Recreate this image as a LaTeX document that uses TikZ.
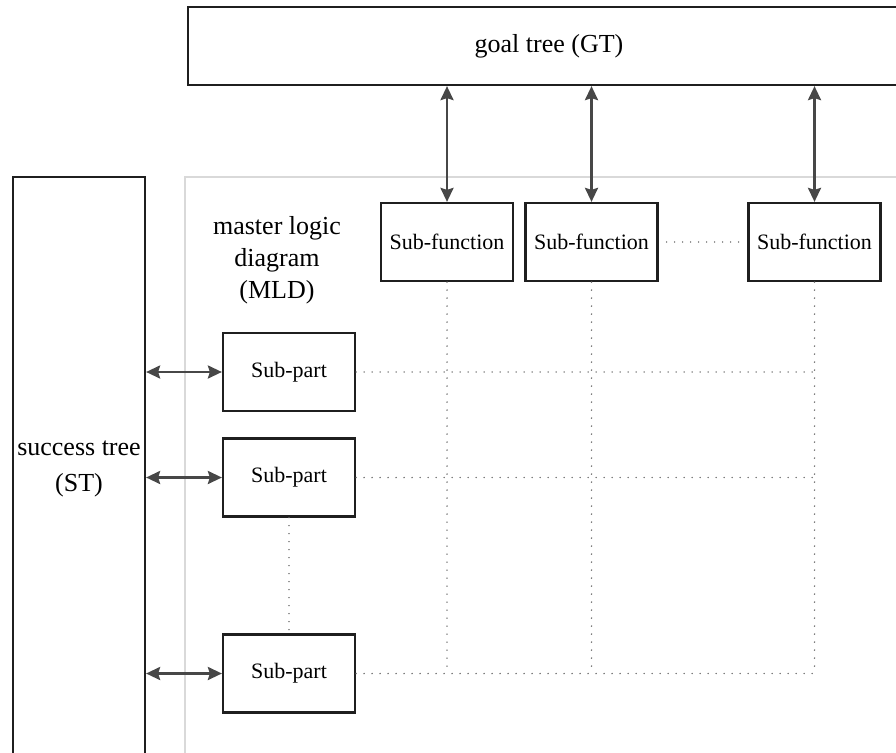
\documentclass[tikz,border=0pt]{standalone}
\usepackage{fontspec}
\setmainfont{Liberation Serif}
\usetikzlibrary{arrows.meta,calc}
\begin{document}
\begin{tikzpicture}[x=1pt,y=-1pt,
  box/.style={draw=black!88,line width=2.2pt,rectangle,inner sep=0pt,
    align=center,font=\fontsize{22}{26}\selectfont},
  bigbox/.style={box,font=\fontsize{26}{36}\selectfont},
  subbox/.style={box,minimum width=132pt,minimum height=78pt},
  link/.style={draw=black!72,line width=2.6pt,
    {Stealth[length=14pt,width=13pt,inset=2pt]}-{Stealth[length=14pt,width=13pt,inset=2pt]}},
  grid/.style={draw=black!62,line width=1.7pt,line cap=round,dash pattern=on 0pt off 8pt},
  label/.style={align=center,font=\fontsize{26}{32}\selectfont}]
\useasboundingbox (0,0) rectangle (896,752);

% frame of the master logic diagram
\draw[black!15,line width=1.2pt] (185,790) -- (185,177) -- (930,177);

% goal tree and success tree
\node[bigbox,minimum width=722pt,minimum height=78pt] (GT) at (549,46) {goal tree (GT)};
\node[bigbox,minimum width=132pt,minimum height=583pt] (ST) at (79,468.5) {success tree\\(ST)};

\node[label] (MLD) at (277,260) {master logic\\diagram\\(MLD)};

% sub-functions
\node[subbox] (sf1) at (447,242) {Sub-function};
\node[subbox] (sf2) at (591.5,242) {Sub-function};
\node[subbox] (sf3) at (814.5,242) {Sub-function};

% sub-parts
\node[subbox] (sp1) at (289,372) {Sub-part};
\node[subbox] (sp2) at (289,477.5) {Sub-part};
\node[subbox] (sp3) at (289,673.5) {Sub-part};

% links to the goal tree
\foreach \s in {sf1,sf2,sf3}
  \draw[link] (GT.south -| \s.north) -- (\s.north);

% links to the success tree
\foreach \s in {sp1,sp2,sp3}
  \draw[link] (ST.east |- \s.west) -- (\s.west);

% dotted continuation marks
\draw[grid] ($(sf2.east)+(8,0)$) -- ($(sf3.west)+(-4,0)$);
\draw[grid] (sp2.south) -- (sp3.north);

% dotted matrix grid
\coordinate (c1) at (sf1.south |- sp3.east);
\coordinate (c2) at (sf2.south |- sp3.east);
\coordinate (c3) at (sf3.south |- sp3.east);
\foreach \s/\c in {sf1/c1,sf2/c2,sf3/c3}
  \draw[grid] (\s.south) -- (\c);
\foreach \s in {sp1,sp2,sp3}
  \draw[grid] (\s.east) -- (sf3.south |- \s.east);
\end{tikzpicture}
\end{document}
